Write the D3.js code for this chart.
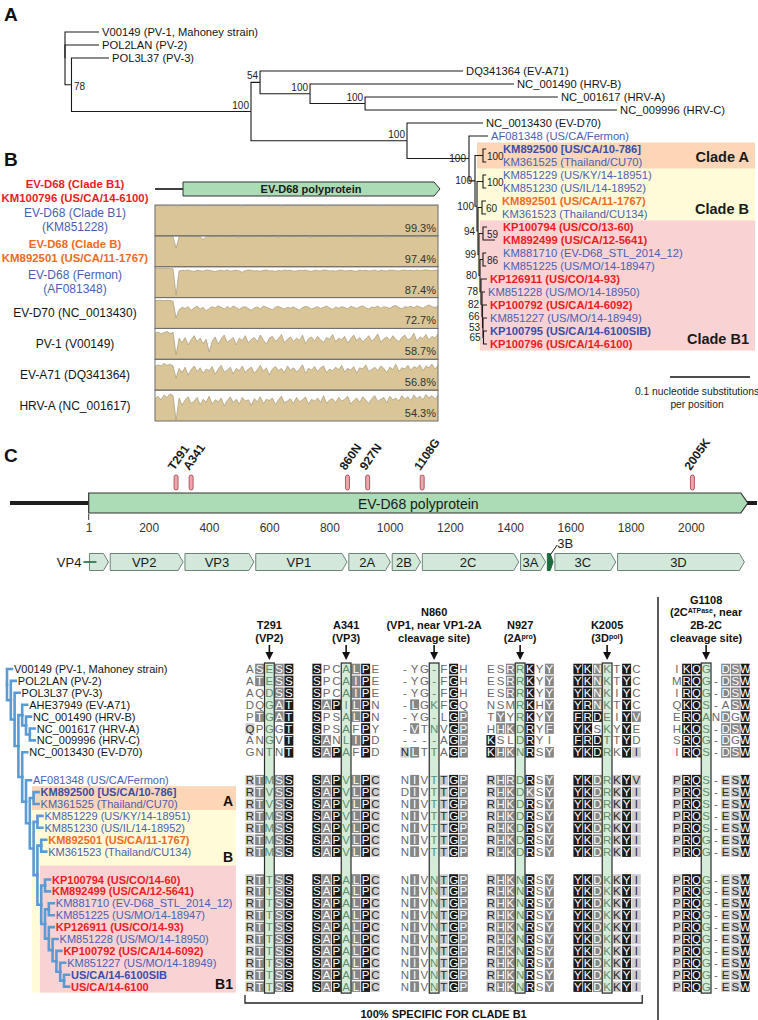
<!DOCTYPE html>
<html>
<head>
<meta charset="utf-8">
<script src="https://cdn.jsdelivr.net/npm/d3@7/dist/d3.min.js"></script>
<style>
html,body{margin:0;padding:0;background:#fff;}
svg{display:block;}
text{font-family:Arial,"Liberation Sans",Helvetica,sans-serif;}
</style>
</head>
<body>
<svg id="fig" width="758" height="1020" viewBox="0 0 758 1020"></svg>
<script>
// ======================= DATA =======================
// Panel A: ML tree (branch lengths in nucleotide substitutions / site, internal labels = bootstrap)
const newickA = "(V00149:0.0425,POL2LAN:0.0425,(POL3L37:0.0469,((DQ341364:0.2538,(NC_001490:0.255,(NC_001617:0.241,NC_009996:0.315)100:0.0688)100:0.0625)54:0.0113,(NC_0013430:0.095,(AF081348:0.0238,((KM892500:0.004,KM361525:0.004)100:0.01,((KM851229:0.004,KM851230:0.004)100:0.0075,((KM892501:0.005,KM361523:0.005)60:0.005,((KP100794:0.005,KM892499:0.015)59:0.005,((KM881710:0.004,KM851225:0.004)86:0.00375,(KP126911:0.0075,(KM851228:0.00375,(KP100792:0.0056,(KM851227:0.005,(KP100795:0.0044,KP100796:0.0044)65:0.000625)53:0.000625)66:0.000625)82:0.00125)78:0.00125)80:0.00125)99:0.00125)94:0.00125)100:0.0025)100:0.0075)100:0.0775)100:0.195)100:0.2244)78:0.0081);";
const leavesA = [
 ["V00149","V00149 (PV-1, Mahoney strain)","k"],
 ["POL2LAN","POL2LAN (PV-2)","k"],
 ["POL3L37","POL3L37 (PV-3)","k"],
 ["DQ341364","DQ341364 (EV-A71)","k"],
 ["NC_001490","NC_001490 (HRV-B)","k"],
 ["NC_001617","NC_001617 (HRV-A)","k"],
 ["NC_009996","NC_009996 (HRV-C)","k"],
 ["NC_0013430","NC_0013430 (EV-D70)","k"],
 ["AF081348","AF081348 (US/CA/Fermon)","b"],
 ["KM892500","KM892500 [US/CA/10-786]","B"],
 ["KM361525","KM361525 (Thailand/CU70)","b"],
 ["KM851229","KM851229 (US/KY/14-18951)","b"],
 ["KM851230","KM851230 (US/IL/14-18952)","b"],
 ["KM892501","KM892501 (US/CA/11-1767)","o"],
 ["KM361523","KM361523 (Thailand/CU134)","b"],
 ["KP100794","KP100794 (US/CO/13-60)","r"],
 ["KM892499","KM892499 (US/CA/12-5641)","r"],
 ["KM881710","KM881710 (EV-D68_STL_2014_12)","b"],
 ["KM851225","KM851225 (US/MO/14-18947)","b"],
 ["KP126911","KP126911 (US/CO/14-93)","r"],
 ["KM851228","KM851228 (US/MO/14-18950)","b"],
 ["KP100792","KP100792 (US/CA/14-6092)","r"],
 ["KM851227","KM851227 (US/MO/14-18949)","b"],
 ["KP100795","KP100795 (US/CA/14-6100SIB)","B"],
 ["KP100796","KP100796 (US/CA/14-6100)","r"]
];
const cladesA = [["Clade B","KM851229","KP100796","#fffbd8"],["Clade A","KM892500","KM361525","#fcd6b6"],["Clade B1","KP100794","KP100796","#f9d3d3"]];
const scaleBarValue = 0.1;
const scaleBarText = ["0.1 nucleotide substitutions","per position"];

// Panel B: % nucleotide identity to KM100796 along genome
const bRefLabel = ["EV-D68 (Clade B1)","KM100796 (US/CA/14-6100)"];
const bLabels = [["EV-D68 (Clade B1)","(KM851228)"],["EV-D68 (Clade B)","KM892501 (US/CA/11-1767)"],["EV-D68 (Fermon)","(AF081348)"],["EV-D70 (NC_0013430)"],["PV-1 (V00149)"],["EV-A71 (DQ341364)"],["HRV-A (NC_001617)"]];
const bLabelStyle = ["b","o","b","k","k","k","k"];
const bPercent = ["99.3%","97.4%","87.4%","72.7%","58.7%","56.8%","54.3%"];
const idKM851228 = [100,100,100,100,100,100,100,99,100,100,100,100,100,100,100,100,99,100,100,100,100,100,100,100,100,100,100,100,100,99,100,100,100,100,100,100,100,100,100,100,100,100,99,100,100,100,100,100,100,100,100,100,100,100,100,100,100,99,100,100,100,100,100,100,100,100,100,100,100,100,100,100,100,100,100,99,100,100,100,100,100,100,100,100,100,100,100,100,100,100,100,100,100,100,100];
const idKM892501 = [100,100,100,100,100,100,99,62,99,100,100,100,100,99,100,100,90,100,100,99,100,100,100,100,99,100,100,100,98,100,100,100,99,100,100,100,100,99,100,100,100,98,100,100,100,100,99,100,100,100,100,100,98,100,100,100,99,100,100,100,100,100,99,100,100,100,100,98,100,100,100,99,100,100,100,100,100,98,100,100,100,100,99,100,100,100,100,98,100,100,100,99,100,100,100];
const idAF081348 = [96,97,96,97,97,96,95,8,88,90,89,91,88,86,90,89,87,91,90,88,86,89,90,88,91,87,89,90,88,84,89,91,90,88,89,87,90,91,88,89,86,90,88,91,89,90,87,88,90,89,91,88,87,90,89,88,91,90,88,89,87,90,91,88,89,90,88,87,91,89,90,88,89,91,87,90,89,88,91,90,89,88,90,91,89,90,88,91,89,90,92,90,89,91,90];
const idEVD70 = [92,93,93,92,93,92,90,35,62,70,66,72,60,68,74,64,70,58,66,72,68,75,70,64,72,66,74,69,63,70,72,66,60,68,71,65,74,70,66,62,70,73,68,64,70,67,72,65,61,69,73,70,64,68,72,66,70,74,68,63,71,67,72,69,65,73,70,66,72,75,68,64,71,69,74,67,72,70,66,73,76,69,65,72,70,74,68,75,71,67,73,78,72,69,74];
const idPV1 = [86,90,84,88,92,85,89,15,70,55,72,48,65,78,58,70,52,66,25,60,74,50,68,80,56,64,72,48,70,62,78,54,66,72,58,80,64,50,70,76,60,68,82,55,66,74,58,70,62,80,52,68,74,60,76,64,56,72,66,82,58,70,64,76,54,68,80,62,72,58,66,78,60,70,84,56,68,74,62,78,66,58,72,80,64,70,86,60,74,68,82,64,76,70,84];
const idEVA71 = [78,84,80,88,82,86,80,40,72,58,76,50,68,80,62,74,56,70,64,78,52,70,82,60,66,76,54,72,64,80,58,70,76,56,68,82,62,74,50,70,78,64,72,58,80,66,74,60,70,84,56,72,66,78,62,74,80,58,70,64,76,68,82,60,72,66,78,56,74,70,84,62,68,76,64,80,72,58,76,68,86,62,74,70,82,66,78,72,84,64,80,74,86,70,82];
const idHRVA = [74,82,70,86,78,90,84,2,76,52,70,80,58,66,78,54,72,62,82,56,70,64,76,50,68,80,60,72,56,78,66,70,52,74,64,80,58,72,68,76,54,70,82,60,66,74,58,78,64,70,80,56,72,66,76,62,84,58,70,74,60,78,66,72,82,56,68,76,62,80,70,58,74,84,64,72,78,60,82,70,76,66,84,72,80,68,86,74,82,70,88,76,84,72,86];
const identitySeries = [idKM851228,idKM892501,idAF081348,idEVD70,idPV1,idEVA71,idHRVA];

// Panel C: polyprotein map
const polyLength = 2189;
const axisTicksC = [1,200,400,600,800,1000,1200,1400,1600,1800,2000];
const mutPos = [291,341,860,927,1108,2005];
const mutLabel = ["T291","A341","860N","927N","1108G","2005K"];
const domainNames = ["VP4","VP2","VP3","VP1","2A","2B","2C","3A","3B","3C","3D"];
const domainStart = [1,70,318,553,862,1006,1106,1432,1521,1546,1754];
const domainEnd   = [69,317,552,861,1005,1105,1431,1520,1545,1753,2180];

// Panel C: cladogram + alignment
const newickC = "(V00149,(POL2LAN,(POL3L37,((AHE37949,(NC_001490,(NC_001617,NC_009996))),(NC_0013430,(AF081348,((KM892500,KM361525),((KM851229,KM851230),((KM892501,KM361523),((KP100794,KM892499),((KM881710,KM851225),(KP126911,(KM851228,(KP100792,(KM851227,(SIB6100,CA6100))))))))))))))));";
const leavesC = [
 ["V00149","V00149 (PV-1, Mahoney strain)","k"],
 ["POL2LAN","POL2LAN (PV-2)","k"],
 ["POL3L37","POL3L37 (PV-3)","k"],
 ["AHE37949","AHE37949 (EV-A71)","k"],
 ["NC_001490","NC_001490 (HRV-B)","k"],
 ["NC_001617","NC_001617 (HRV-A)","k"],
 ["NC_009996","NC_009996 (HRV-C)","k"],
 ["NC_0013430","NC_0013430 (EV-D70)","k"],
 ["AF081348","AF081348 (US/CA/Fermon)","b"],
 ["KM892500","KM892500 [US/CA/10-786]","B"],
 ["KM361525","KM361525 (Thailand/CU70)","b"],
 ["KM851229","KM851229 (US/KY/14-18951)","b"],
 ["KM851230","KM851230 (US/IL/14-18952)","b"],
 ["KM892501","KM892501 (US/CA/11-1767)","o"],
 ["KM361523","KM361523 (Thailand/CU134)","b"],
 ["KP100794","KP100794 (US/CO/14-60)","r"],
 ["KM892499","KM892499 (US/CA/12-5641)","r"],
 ["KM881710","KM881710 (EV-D68_STL_2014_12)","b"],
 ["KM851225","KM851225 (US/MO/14-18947)","b"],
 ["KP126911","KP126911 (US/CO/14-93)","r"],
 ["KM851228","KM851228 (US/MO/14-18950)","b"],
 ["KP100792","KP100792 (US/CA/14-6092)","r"],
 ["KM851227","KM851227 (US/MO/14-18949)","b"],
 ["SIB6100","US/CA/14-6100SIB","B"],
 ["CA6100","US/CA/14-6100","r"]
];
const alignGroups = [8,7,10];
const cladesC = [["B","KM851229","CA6100","#fffbd8"],["A","KM892500","KM361525","#fcd6b6"],["B1","KP100794","CA6100","#f9d3d3"]];
const blockTitles = [["T291","(VP2)"],["A341","(VP3)"],["N860","(VP1, near VP1-2A","cleavage site)"],["N927","(2A^pro)"],["K2005","(3D^pol)"],["G1108","(2C^ATPase, near","2B-2C","cleavage site)"]];
const blockHighlight = [2,3,3,3,3,3];
const seqT291 = ["ASESS","ATESS","AQDSS","DQGAT","PTGAT","QPGGT","ANGVT","GNTNT",
 "RTMSS","RTVSS","RTVSS","RTMSS","RTMSS","RTMSS","RTMSS",
 "RTTSS","RTTSS","RTTSS","RTTSS","RTTSS","RTTSS","RTTSS","RTTSS","RTTSS","RTTSS"];
const shadeT291 = ["02h23","02h23","00h23","00h23","02h23","10h03","00h03","00h03",
 "12h23","12h23","12h23","12h23","12h23","12h23","12h23",
 "12h23","12h23","12h23","12h23","12h23","12h23","12h23","12h23","12h23","12h23"];
const seqA341 = ["SPCALPE","SPCAIPE","SPCAIPE","SAPILPN","SPSALPN","SPSAFPY","SANLIPD","SAPAFPD",
 "SAPVLPC","SAPVLPC","SAPVLPC","SAPVLPC","SAPVLPC","SAPVLPC","SAPVLPC",
 "SAPALPC","SAPALPC","SAPALPC","SAPALPC","SAPALPC","SAPALPC","SAPALPC","SAPALPC","SAPALPC","SAPALPC"];
const shadeA341 = ["300h230","300h230","300h230","323h230","300h230","300h030","320h230","323h030",
 "323h231","323h231","323h231","323h231","323h231","323h231","323h231",
 "323h231","323h231","323h231","323h231","323h231","323h231","323h231","323h231","323h231","323h231"];
const seqN860 = ["-YG-FGH","-YG-FGH","-YG-FGH","-LGKFGQ","-YG-LGP","-VTNVGP","----AGP","NLTTAGP",
 "NIVTTGP","DIVTTGP","NIVTTGP","NIVTTGP","NIVTTGP","NIVTTGP","NIVTTGP",
 "NIVNTGP","NIVNTGP","NIVNTGP","NIVNTGP","NIVNTGP","NIVNTGP","NIVNTGP","NIVNTGP","NIVNTGP","NIVNTGP"];
const shadeN860 = ["000h030","000h030","000h030","020h030","000h032","020h032","000h032","120h032",
 "020h132","020h132","020h132","020h132","020h132","020h132","020h132",
 "020h132","020h132","020h132","020h132","020h132","020h132","020h132","020h132","020h132","020h132"];
const seqN927 = ["ESRRKYY","ESRRKYY","ESRRKYY","NSMRKHY","TYYRKYY","HHKDRYF","KSLDRYI","KHKNRSY",
 "RHRDRSY","RHKDKSY","RHKDRSY","RHKDRSY","RHKDRSY","RHKDRSY","RHKDRSY",
 "RHKNRSY","RHKNRSY","RHKNRSY","RHKNRSY","RHKNRSY","RHKNRSY","RHKNRSY","RHKNRSY","RHKNRSY","RHKNRSY"];
const shadeN927 = ["002h302","002h302","002h302","000h302","020h302","022h302","300h300","322h302",
 "122h302","122h202","122h302","122h302","122h302","122h302","122h302",
 "122h302","122h302","122h302","122h302","122h302","122h302","122h302","122h302","122h302","122h302"];
const seqK2005 = ["YKNKTYC","YKNKTYC","YKNKIYC","YRNKTYC","FRDEIYV","YKSKYYE","FRDTTYD","YKDRKYI",
 "YKDRKYV","YKDRKYI","YKDRKYI","YKDRKYI","YKDRKYI","YKDRKYI","YKDRKYI",
 "YKDKKYI","YKDKKYI","YKDKKYI","YKDKKYI","YKDKKYI","YKDKKYI","YKDKKYI","YKDKKYI","YKDKKYI","YKDKKYI"];
const shadeK2005 = ["332h030","332h030","332h030","332h030","333h032","330h030","333h030","333h031",
 "332h131","332h131","332h131","332h131","332h131","332h131","332h131",
 "332h131","332h131","332h131","332h131","332h131","332h131","332h131","332h131","332h131","332h131"];
const seqG1108 = ["IKQG DSW","MRQG-DSW","IRQG-DSW","QKQS-ASW","ERQANDGW","HKQS-DSW","SRQG-DGW","IRQS-DSW",
 "PRQS-ESW","PRQS-ESW","PRQS-ESW","PRQS-ESW","PRQS-ESW","PRQG-ESW","PRQG-ESW",
 "PRQG-ESW","PRQG-ESW","PRQG-ESW","PRQG-ESW","PRQG-ESW","PRQG-ESW","PRQG-ESW","PRQG-ESW","PRQG-ESW","PRQG-ESW"];
const shadeG1108 = ["033h0223","033h0223","033h0223","033h0023","033h0203","033h0223","033h0203","033h0223",
 "133h0113","133h0113","133h0113","133h0113","133h0113","133h0113","133h0113",
 "133h0113","133h0113","133h0113","133h0113","133h0113","133h0113","133h0113","133h0113","133h0113","133h0113"];
const blockSeqs = [seqT291,seqA341,seqN860,seqN927,seqK2005,seqG1108];
const blockShades = [shadeT291,shadeA341,shadeN860,shadeN927,shadeK2005,shadeG1108];
const specificText = "100% SPECIFIC FOR CLADE B1";

// ======================= STYLE / LAYOUT =======================
const STY = {k:{c:"#151515",w:"normal"}, b:{c:"#4a5fb3",w:"normal"}, B:{c:"#3a4ea8",w:"bold"}, o:{c:"#ef6a24",w:"bold"}, r:{c:"#ec1c24",w:"bold"}};
const L = {
  aRootX:65, aLeafY0:32, aLeafY1:344, aPxPerUnit:800, cladeX0:477, cladeX1:755,
  bX0:155, bX1:438, bTop:205, bH:30.86,
  cX1:88.7, cX2000:690.9,
  treeCx0:7, treeCstep:3.8, rowY0:669, rowStep:11.9, groupGap:16,
  blockX:[245,312,400,486,573,672], cw:9.75, ch:10.6
};

function parseNewick(str){
  const s = str.replace(/\s+/g,"").replace(/;$/,"");
  let i=0;
  function node(){
    const n={};
    if(s[i]==="("){
      n.children=[]; i++;
      n.children.push(node());
      while(s[i]===","){ i++; n.children.push(node()); }
      i++;
    }
    let name=""; while(i<s.length && !",():".includes(s[i])) name+=s[i++];
    n.name=name;
    n.len=0;
    if(s[i]===":"){ i++; let num=""; while(i<s.length && !",()".includes(s[i])) num+=s[i++]; n.len=+num; }
    return n;
  }
  return node();
}

const svg = d3.select("#fig");

// panel letters
[["A",4,21],["B",4,166],["C",4,462]].forEach(([t,x,y])=>{
  svg.append("text").attr("x",x).attr("y",y).attr("font-size",19).attr("font-weight","bold").attr("fill","#111").text(t);
});

// ======================= PANEL A =======================
(function(){
  const root = d3.hierarchy(parseNewick(newickA));
  const xA = d3.scaleLinear().domain([0,1]).range([L.aRootX, L.aRootX+L.aPxPerUnit]);
  const order = leavesA.map(d=>d[0]);
  const yA = d3.scaleLinear().domain([0,order.length-1]).range([L.aLeafY0,L.aLeafY1]);
  root.eachBefore(d=>{ d.dist = d.parent ? d.parent.dist + d.data.len : 0; d.px = xA(d.dist); });
  root.leaves().forEach(l=>{ l.py = yA(order.indexOf(l.data.name)); });
  root.eachAfter(d=>{ if(d.children) d.py=(d.children[0].py+d.children[d.children.length-1].py)/2; });
  const byName = {}; root.leaves().forEach(l=>byName[l.data.name]=l);

  // clade boxes
  const half = (yA(1)-yA(0))/2;
  const gC = svg.append("g");
  cladesA.forEach(c=>{
    const y0=byName[c[1]].py-half, y1=byName[c[2]].py+half;
    const x0 = c[0]==="Clade B1" ? L.cladeX0+3 : L.cladeX0;
    gC.append("rect").attr("x",x0).attr("y",y0).attr("width",L.cladeX1-x0).attr("height",y1-y0).attr("fill",c[3]);
  });
  const visBottom = {"Clade A":byName["KM361525"].py+half, "Clade B":byName["KM361523"].py+half, "Clade B1":byName["KP100796"].py+half};
  cladesA.forEach(c=>{
    gC.append("text").attr("x",L.cladeX1-6).attr("y",visBottom[c[0]]-7).attr("text-anchor","end")
      .attr("font-size",14.5).attr("font-weight","bold").attr("fill","#1a1a1a").text(c[0]);
  });

  // branches
  svg.append("g").selectAll("path").data(root.links()).join("path")
    .attr("d",l=>`M${l.source.px},${l.source.py}V${l.target.py}H${l.target.px}`)
    .attr("fill","none").attr("stroke","#1a1a1a").attr("stroke-width",1.1);

  const isBracket = d => d.children && d.children.length===2 && !d.children[0].children && !d.children[1].children
      && d.parent && d.parent.children.some(s=>s!==d && s.children) && d.px>470;

  // leaf labels
  const info = {}; leavesA.forEach(d=>info[d[0]]={t:d[1],s:d[2]});
  svg.append("g").selectAll("text").data(root.leaves()).join("text")
    .attr("x",d=> isBracket(d.parent) ? Math.max(d.px+3, d.parent.px+20) : d.px+3)
    .attr("y",d=>d.py+4)
    .attr("font-size",11.2)
    .attr("fill",d=>STY[info[d.data.name].s].c)
    .attr("font-weight",d=>STY[info[d.data.name].s].w)
    .text(d=>info[d.data.name].t);

  // bootstrap labels
  const internals = root.descendants().filter(d=>d.children && d.data.name);
  svg.append("g").selectAll("text").data(internals).join("text")
    .attr("font-size",10).attr("fill","#222")
    .each(function(d){
      const t=d3.select(this);
      if(d.depth===1){ t.attr("x",d.px+2.5).attr("y",d.py+5).attr("text-anchor","start"); }
      else if(isBracket(d)){ t.attr("x",d.px+4).attr("y",d.py+4).attr("text-anchor","start"); }
      else if(d.px>460){ t.attr("x",d.px-3).attr("y",d.py+3.5).attr("text-anchor","end"); }
      else { t.attr("x",d.px-2).attr("y",d.py-3).attr("text-anchor","end"); }
    })
    .text(d=>d.data.name);

  // scale bar
  const sb0=670, sb1=sb0+(xA(scaleBarValue)-xA(0));
  svg.append("line").attr("x1",sb0).attr("x2",sb1).attr("y1",377).attr("y2",377).attr("stroke","#111").attr("stroke-width",1.3);
  scaleBarText.forEach((t,i)=>svg.append("text").attr("x",697).attr("y",395+i*13).attr("text-anchor","middle")
    .attr("font-size",10.3).attr("fill","#222").text(t));
})();

// ======================= PANEL B =======================
(function(){
  const g = svg.append("g");
  g.append("line").attr("x1",L.bX0).attr("x2",184).attr("y1",189).attr("y2",189).attr("stroke","#111").attr("stroke-width",1.6);
  g.append("path").attr("d",`M183,182H434L440,189L434,196H183Z`).attr("fill","#abdcb5").attr("stroke","#333").attr("stroke-width",1);
  g.append("text").attr("x",311).attr("y",193).attr("text-anchor","middle").attr("font-size",11).attr("font-weight","bold").attr("fill","#1a1a1a").text("EV-D68 polyprotein");
  bRefLabel.forEach((t,i)=>g.append("text").attr("x",75).attr("y",188+i*14).attr("text-anchor","middle")
    .attr("font-size",11.4).attr("font-weight","bold").attr("fill",STY.r.c).text(t));

  identitySeries.forEach((vals,i)=>{
    const top = L.bTop + i*L.bH, bot = top+L.bH;
    const x = d3.scaleLinear().domain([0,vals.length-1]).range([L.bX0,L.bX1]);
    const y = d3.scaleLinear().domain([0,100]).range([bot,top+0.6]);
    const area = d3.area().x((d,j)=>x(j)).y0(bot).y1(d=>y(d));
    const line = d3.line().x((d,j)=>x(j)).y(d=>y(d));
    g.append("path").attr("d",area(vals)).attr("fill","#d9c598");
    g.append("path").attr("d",line(vals)).attr("fill","none").attr("stroke","#9c8d6e").attr("stroke-width",0.6);
    g.append("rect").attr("x",L.bX0).attr("y",top).attr("width",L.bX1-L.bX0).attr("height",L.bH).attr("fill","none").attr("stroke","#6f6f6f").attr("stroke-width",1);
    g.append("text").attr("x",L.bX1-2).attr("y",bot-4).attr("text-anchor","end").attr("font-size",11).attr("fill","#333").text(bPercent[i]);
    const lines = bLabels[i], st = STY[bLabelStyle[i]];
    const cy = top + L.bH/2;
    lines.forEach((t,k)=>g.append("text").attr("x",75).attr("y",cy+4+(k-(lines.length-1)/2)*14)
      .attr("text-anchor","middle").attr("font-size",st.w==="bold"?11.4:12).attr("fill",st.c).attr("font-weight",st.w).text(t));
  });
})();

// ======================= PANEL C (map) =======================
(function(){
  const g = svg.append("g");
  const xC = d3.scaleLinear().domain([1,2000]).range([L.cX1,L.cX2000]);
  g.append("line").attr("x1",10).attr("x2",757).attr("y1",503).attr("y2",503).attr("stroke","#1e1e1e").attr("stroke-width",4);
  const x0=xC(1), tip=xC(polyLength);
  g.append("path").attr("d",`M${x0},493H${tip-7}L${tip},503L${tip-7},513H${x0}Z`).attr("fill","#acdcb6").attr("stroke","#333").attr("stroke-width",1.2);
  g.append("text").attr("x",(x0+tip)/2).attr("y",509).attr("text-anchor","middle").attr("font-size",14).attr("fill","#1a1a1a").text("EV-D68 polyprotein");
  const ax = g.append("g").attr("transform","translate(0,513)")
    .call(d3.axisBottom(xC).tickValues(axisTicksC).tickSize(0).tickPadding(10).tickFormat(d3.format("d")));
  ax.select(".domain").remove();
  ax.selectAll("text").attr("font-size",12).attr("fill","#333").attr("font-family","Arial, 'Liberation Sans', sans-serif");
  g.append("line").attr("x1",xC(1)).attr("x2",xC(1)).attr("y1",514).attr("y2",520).attr("stroke","#333");
  mutPos.forEach((p,i)=>{
    const mx=xC(p);
    g.append("rect").attr("x",mx-2).attr("y",475).attr("width",4).attr("height",15).attr("rx",2)
      .attr("fill","#eba7ae").attr("stroke","#a23a44").attr("stroke-width",0.8);
    g.append("text").attr("transform",`translate(${mx-2},471) rotate(-55)`).attr("font-size",12).attr("font-weight","bold")
      .attr("fill","#1a1a1a").text(mutLabel[i]);
  });
  const yc=562, h=17;
  domainNames.forEach((n,i)=>{
    const a=xC(domainStart[i]-0.5)+0.9, b=xC(domainEnd[i]+0.5)-0.9;
    const pt=Math.min(5,(b-a)/2);
    const dark = n==="3B";
    g.append("path").attr("d",`M${a},${yc-h/2}H${b-pt}L${b},${yc}L${b-pt},${yc+h/2}H${a}Z`)
      .attr("fill",dark?"#1d6b3c":"#d3e8db").attr("stroke",dark?"#1d6b3c":"#6c8576").attr("stroke-width",1);
    if(n==="VP4"){
      g.append("text").attr("x",a-8).attr("y",yc+4.5).attr("text-anchor","end").attr("font-size",13).attr("fill","#1a1a1a").text(n);
      g.append("line").attr("x1",a-6).attr("x2",a+7).attr("y1",yc).attr("y2",yc).attr("stroke","#1d6b3c").attr("stroke-width",1.6);
    } else if(n==="3B"){
      g.append("line").attr("x1",(a+b)/2).attr("x2",(a+b)/2+7).attr("y1",yc-7).attr("y2",yc-17).attr("stroke","#1a1a1a").attr("stroke-width",1);
      g.append("text").attr("x",(a+b)/2+7).attr("y",yc-14).attr("font-size",13).attr("fill","#1a1a1a").text(n);
    } else {
      g.append("text").attr("x",(a+b-pt)/2).attr("y",yc+4.5).attr("text-anchor","middle").attr("font-size",13).attr("fill","#1a1a1a").text(n);
    }
  });
})();

// ======================= PANEL C (tree + alignment) =======================
function rowY(i){ let g=0, acc=0; for(const n of alignGroups){ if(i<acc+n) break; acc+=n; g++; } return L.rowY0 + i*L.rowStep + g*L.groupGap; }

(function(){
  const root = d3.hierarchy(parseNewick(newickC));
  const order = leavesC.map(d=>d[0]);
  root.eachBefore(d=>{ if(d.children) d.px = L.treeCx0 + d.depth*L.treeCstep; else d.px = d.parent.px + 5; });
  root.leaves().forEach(l=>{ l.py = rowY(order.indexOf(l.data.name)); });
  root.eachAfter(d=>{ if(d.children) d.py=(d.children[0].py+d.children[d.children.length-1].py)/2; });

  const edgeTop = n => { const i=order.indexOf(n); return (rowY(i)+rowY(i-1))/2; };
  const edgeBot = n => { const i=order.indexOf(n); return i<order.length-1 ? (rowY(i)+rowY(i+1))/2 : rowY(i)+6; };
  const g = svg.append("g");
  cladesC.forEach(c=>{
    const x0 = c[0]==="B1" ? 40 : 32;
    g.append("rect").attr("x",x0).attr("y",edgeTop(c[1])).attr("width",236-x0).attr("height",edgeBot(c[2])-edgeTop(c[1])).attr("fill",c[3]);
  });
  const visBot = {A:edgeBot("KM361525"), B:edgeTop("KP100794"), B1:edgeBot("CA6100")};
  cladesC.forEach(c=>g.append("text").attr("x",233).attr("y",visBot[c[0]]-4).attr("text-anchor","end")
    .attr("font-size",14).attr("font-weight","bold").attr("fill","#111").text(c[0]));

  svg.append("g").selectAll("path").data(root.links()).join("path")
    .attr("d",l=>`M${l.source.px},${l.source.py}V${l.target.py}H${l.target.px}`)
    .attr("fill","none").attr("stroke","#5b9bd5").attr("stroke-width",2.6).attr("stroke-linecap","square");
  const info = {}; leavesC.forEach(d=>info[d[0]]={t:d[1],s:d[2]});
  svg.append("g").selectAll("text").data(root.leaves()).join("text")
    .attr("x",d=>d.px+2).attr("y",d=>d.py+4).attr("font-size",11)
    .attr("fill",d=>STY[info[d.data.name].s].c).attr("font-weight",d=>STY[info[d.data.name].s].w)
    .text(d=>info[d.data.name].t);

  const shadeFill = {"1":"#cdcdcd","2":"#868686","3":"#1b1b1b"};
  const shadeText = {"0":"#6a6a6a","1":"#2a2a2a","2":"#ffffff","3":"#ffffff","h":"#628c6c"};
  const ga = svg.append("g");
  const nRows = leavesC.length;
  const colTop = rowY(0)-6, colBot = rowY(nRows-1)+6.5;
  blockSeqs.forEach((seqs,bi)=>{
    const bx = L.blockX[bi], hx = bx + blockHighlight[bi]*L.cw;
    ga.append("rect").attr("x",hx).attr("y",colTop).attr("width",L.cw).attr("height",colBot-colTop).attr("fill","#d4ecd8");
    seqs.forEach((s,ri)=>{
      const y=rowY(ri);
      for(let j=0;j<s.length;j++){
        const sh = blockShades[bi][ri][j], ch=s[j], cx = bx + j*L.cw;
        if(shadeFill[sh]) ga.append("rect").attr("x",cx+0.4).attr("y",y-L.ch/2).attr("width",L.cw-0.8).attr("height",L.ch).attr("fill",shadeFill[sh]);
        if(ch!==" ") ga.append("text").attr("x",cx+L.cw/2).attr("y",y+4).attr("text-anchor","middle")
          .attr("font-family","'Liberation Serif','DejaVu Serif',serif").attr("font-size",11.5).attr("fill",shadeText[sh]).text(ch);
      }
    });
    ga.append("rect").attr("x",hx).attr("y",colTop).attr("width",L.cw).attr("height",colBot-colTop).attr("fill","none").attr("stroke","#2a2a2a").attr("stroke-width",1.2);
    const cx = hx + L.cw/2, lines = blockTitles[bi];
    lines.forEach((t,k)=>{
      const tt = ga.append("text").attr("x",cx).attr("y",642-(lines.length-1-k)*12.8).attr("text-anchor","middle")
        .attr("font-size",11).attr("font-weight","bold").attr("fill","#111");
      t.split(/\^(\w+)/).forEach((part,pi)=>{
        if(!part) return;
        const sp = tt.append("tspan").text(part);
        if(pi%2===1) sp.attr("font-size",7).attr("baseline-shift","super");
      });
    });
    ga.append("line").attr("x1",cx).attr("x2",cx).attr("y1",645).attr("y2",653).attr("stroke","#111").attr("stroke-width",1.6);
    ga.append("path").attr("d",`M${cx-4},652L${cx+4},652L${cx},660Z`).attr("fill","#111");
  });
  ga.append("line").attr("x1",658).attr("x2",658).attr("y1",597).attr("y2",1020).attr("stroke","#222").attr("stroke-width",1.5);
  const bL = L.blockX[0], bR = L.blockX[4] + 7*L.cw + 1;
  ga.append("path").attr("d",`M${bL},995V1003H${bR}V995`).attr("fill","none").attr("stroke","#222").attr("stroke-width",1.3);
  ga.append("text").attr("x",(bL+bR)/2).attr("y",1018).attr("text-anchor","middle").attr("font-size",11).attr("font-weight","bold").attr("fill","#111").text(specificText);
})();
</script>
</body>
</html>
